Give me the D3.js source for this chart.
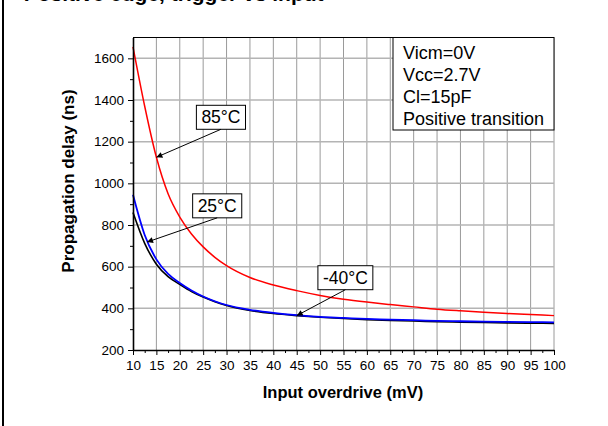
<!DOCTYPE html>
<html>
<head>
<meta charset="utf-8">
<script src="https://cdn.jsdelivr.net/npm/d3@7"></script>
<style>
  body { margin: 0; background: #fff; }
  svg { display: block; font-family: "Liberation Sans", Arial, sans-serif; }
</style>
</head>
<body>
<svg id="chart" width="608" height="426"></svg>
<script>
// input overdrive (mV) sample points, shared by all three curves
const overdrive = [10, 12.5, 15, 17.5, 20, 22.5, 25, 27.5, 30, 35, 40, 45, 50, 55, 60, 65, 70, 75, 80, 85, 90, 95, 100];
// propagation delay (ns)
const delayHot  = [1655, 1370, 1125, 950, 838, 757, 695, 645, 605, 548, 512, 485, 462, 444, 430, 418, 407, 396, 388, 381, 375, 370, 365];
const delayRoom = [945, 752, 635, 565, 522, 486, 457, 434, 416, 393, 378, 367, 359, 354, 349, 346, 343, 340, 338, 336, 335, 334, 333];
const delayCold = [860, 712, 612, 552, 515, 481, 454, 432, 414, 390, 375, 365, 357, 351, 346, 342, 339, 336, 334, 332, 330, 329, 328];

const xTickValues = [10, 15, 20, 25, 30, 35, 40, 45, 50, 55, 60, 65, 70, 75, 80, 85, 90, 95, 100];
const xMinorTicks = [12.5, 17.5, 22.5, 27.5, 32.5, 37.5, 42.5, 47.5, 52.5, 57.5, 62.5, 67.5, 72.5, 77.5, 82.5, 87.5, 92.5, 97.5];
const yTickValues = [200, 400, 600, 800, 1000, 1200, 1400, 1600];
const yMinorTicks = [300, 500, 700, 900, 1100, 1300, 1500];

const conditions = ['Vicm=0V', 'Vcc=2.7V', 'Cl=15pF', 'Positive transition'];
const tempLabels = ['85°C', '25°C', '-40°C'];

const svg = d3.select('#chart');
const plotLeft = 133, plotRight = 554, plotTop = 37.5, plotBottom = 350;

const x = d3.scaleLinear().domain([10, 100]).range([plotLeft, plotRight]);
const y = d3.scaleLinear().domain([200, 1700]).range([plotBottom, plotTop]);

// page frame line and the heading, which runs off the top edge
svg.append('line')
  .attr('x1', 3).attr('x2', 3).attr('y1', 0).attr('y2', 426)
  .attr('stroke', '#000').attr('stroke-width', 2);

const heading = svg.append('text')
  .attr('y', 0.5)
  .attr('font-size', 21)
  .attr('font-weight', 'bold')
  .text('Positive edge, trigger vs input');
const gPos = heading.node().getExtentOfChar(11);
heading.attr('x', 141 - (gPos.x + gPos.width / 2));

// grid
const grid = svg.append('g');
grid.selectAll('.vgrid')
  .data(xTickValues.slice(1))
  .enter().append('line')
  .attr('x1', d => x(d)).attr('x2', d => x(d))
  .attr('y1', plotTop).attr('y2', plotBottom)
  .attr('stroke', '#9a9a9a').attr('stroke-width', 1);

grid.selectAll('.hgrid')
  .data(yTickValues.slice(1))
  .enter().append('line')
  .attr('x1', plotLeft).attr('x2', plotRight)
  .attr('y1', d => y(d)).attr('y2', d => y(d))
  .attr('stroke', '#b4b4b4').attr('stroke-width', 1.5);

svg.append('line')
  .attr('x1', plotLeft).attr('x2', plotRight).attr('y1', plotTop).attr('y2', plotTop)
  .attr('stroke', '#000').attr('stroke-width', 1);

// curves
const line = d3.line()
  .x((d, i) => x(overdrive[i]))
  .y(d => y(d))
  .curve(d3.curveMonotoneX);

svg.append('path').datum(delayHot)
  .attr('d', line).attr('fill', 'none')
  .attr('stroke', '#ff0000').attr('stroke-width', 1.5);
svg.append('path').datum(delayCold)
  .attr('d', line).attr('fill', 'none')
  .attr('stroke', '#000').attr('stroke-width', 1.6);
svg.append('path').datum(delayRoom)
  .attr('d', line).attr('fill', 'none')
  .attr('stroke', '#0000ff').attr('stroke-width', 1.8);

// axes
function styleAxis(g) {
  g.attr('font-size', 13.5).attr('font-family', '"Liberation Sans", Arial, sans-serif');
  g.select('.domain').attr('stroke', '#000').attr('stroke-width', 1.6);
  g.selectAll('.tick line').attr('stroke', '#000').attr('stroke-width', 1);
  g.selectAll('text').attr('fill', '#000');
}

svg.append('g')
  .attr('transform', `translate(0,${plotBottom})`)
  .call(d3.axisBottom(x).tickValues(xMinorTicks).tickSize(3).tickFormat(''))
  .call(g => g.select('.domain').remove())
  .call(styleAxis);
svg.append('g')
  .attr('transform', `translate(0,${plotBottom})`)
  .call(d3.axisBottom(x).tickValues(xTickValues).tickSize(5).tickSizeOuter(0)
    .tickPadding(5).tickFormat(d3.format('d')))
  .call(styleAxis);

svg.append('g')
  .attr('transform', `translate(${plotLeft},0)`)
  .call(d3.axisLeft(y).tickValues(yMinorTicks).tickSize(3).tickFormat(''))
  .call(g => g.select('.domain').remove())
  .call(styleAxis);
svg.append('g')
  .attr('transform', `translate(${plotLeft},0)`)
  .call(d3.axisLeft(y).tickValues(yTickValues).tickSize(5).tickSizeOuter(0)
    .tickPadding(4).tickFormat(d3.format('d')))
  .call(styleAxis);

// axis titles
svg.append('text')
  .attr('transform', 'translate(74,181) rotate(-90)')
  .attr('text-anchor', 'middle')
  .attr('font-size', 17).attr('font-weight', 'bold')
  .text('Propagation delay (ns)');

svg.append('text')
  .attr('x', 343).attr('y', 398)
  .attr('text-anchor', 'middle')
  .attr('font-size', 16.5).attr('font-weight', 'bold')
  .text('Input overdrive (mV)');

// test conditions box
const boxLeft = 393;
svg.append('rect')
  .attr('x', boxLeft).attr('y', plotTop)
  .attr('width', plotRight - boxLeft).attr('height', 92.5)
  .attr('fill', '#fff').attr('stroke', '#000').attr('stroke-width', 1);
svg.append('g').selectAll('text')
  .data(conditions)
  .enter().append('text')
  .attr('x', boxLeft + 10)
  .attr('y', (d, i) => 59 + i * 22)
  .attr('font-size', 18)
  .text(d => d);

// temperature callouts: label centre and arrow tip in data units
const callouts = [
  { text: tempLabels[0], at: [28.8, 1317], tip: [overdrive[2], delayHot[2]] },
  { text: tempLabels[1], at: [28.0, 892], tip: [13, 718] },
  { text: tempLabels[2], at: [55.4, 547], tip: [overdrive[11], delayCold[11]] }
];

svg.append('defs').append('marker')
  .attr('id', 'head')
  .attr('viewBox', '0 0 10 10')
  .attr('refX', 10).attr('refY', 5)
  .attr('markerWidth', 9).attr('markerHeight', 6)
  .attr('markerUnits', 'userSpaceOnUse')
  .attr('orient', 'auto')
  .append('path').attr('d', 'M0,0L10,5L0,10Z').attr('fill', '#000');

callouts.forEach(c => {
  const cx = x(c.at[0]);
  const cy = y(c.at[1]);
  const g = svg.append('g');
  const label = g.append('text')
    .attr('x', cx).attr('y', cy + 6)
    .attr('text-anchor', 'middle')
    .attr('font-size', 17.5)
    .text(c.text);
  const bb = label.node().getBBox();
  const w = bb.width + 10;
  const h = 24;
  g.insert('rect', 'text')
    .attr('x', cx - w / 2).attr('y', cy - h / 2)
    .attr('width', w).attr('height', h)
    .attr('fill', '#fff').attr('stroke', '#000').attr('stroke-width', 1);
  svg.append('line')
    .attr('x1', cx).attr('y1', cy + h / 2)
    .attr('x2', x(c.tip[0])).attr('y2', y(c.tip[1]))
    .attr('stroke', '#000').attr('stroke-width', 1)
    .attr('marker-end', 'url(#head)');
});
</script>
</body>
</html>
